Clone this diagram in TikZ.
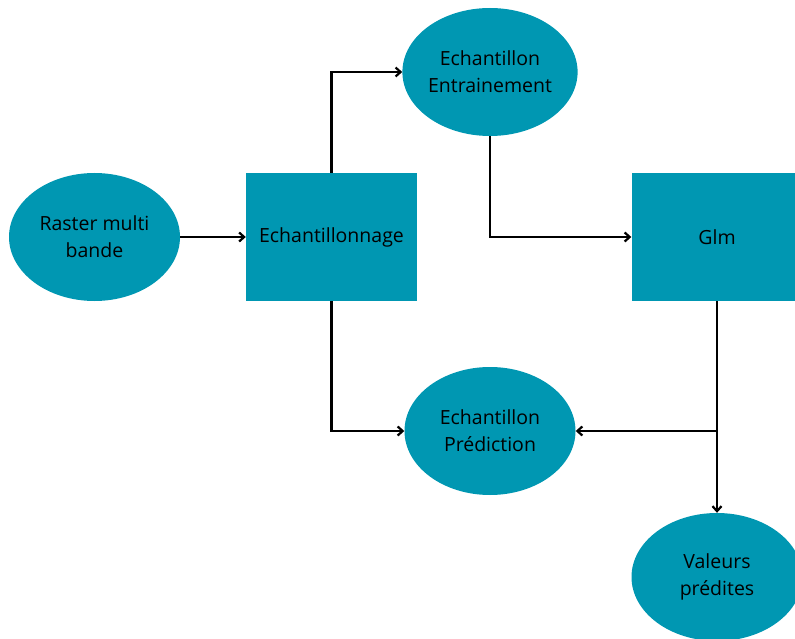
\documentclass[tikz,border=0pt]{standalone}
\usepackage{fontspec}
\setmainfont{Open Sans}
\usetikzlibrary{shapes.geometric,arrows.meta}
\definecolor{teal}{HTML}{0097B2}
\tikzset{
  x=1pt,y=-1pt,
  ell/.style={ellipse,fill=teal,minimum width=171pt,minimum height=128pt,inner sep=0pt,align=center,font=\fontsize{19.5}{27}\selectfont},
  box/.style={rectangle,fill=teal,minimum width=171pt,minimum height=128pt,inner sep=0pt,align=center,font=\fontsize{19.5}{27}\selectfont},
  conn/.style={draw=black,line width=2.2pt,-{Straight Barb[length=5pt,width=9pt,line width=2.2pt]}},
}
\begin{document}
\begin{tikzpicture}
\useasboundingbox (0,0) rectangle (795,639);
\clip (0,0) rectangle (795,639);
\node[ell] (raster) at (94.5,237) {Raster multi\\bande};
\node[box] (ech) at (331.5,237) {Echantillonnage};
\node[ell] (entr) at (490,72) {Echantillon\\Entrainement};
\node[box] (glm) at (717,237) {Glm};
\node[ell] (pred) at (490,431) {Echantillon\\Prédiction};
\node[ell] (val) at (717,577) {Valeurs\\prédites};
\coordinate (split) at (717,431);
\draw[conn] (raster.east) -- (ech.west);
\draw[conn] (ech.north) |- (entr.west);
\draw[conn] (ech.south) |- (pred.west);
\draw[conn] (entr.south) |- (glm.west);
\draw[conn] (glm.south) -- (val.north);
\draw[conn] (split) -- (pred.east);
\end{tikzpicture}
\end{document}
